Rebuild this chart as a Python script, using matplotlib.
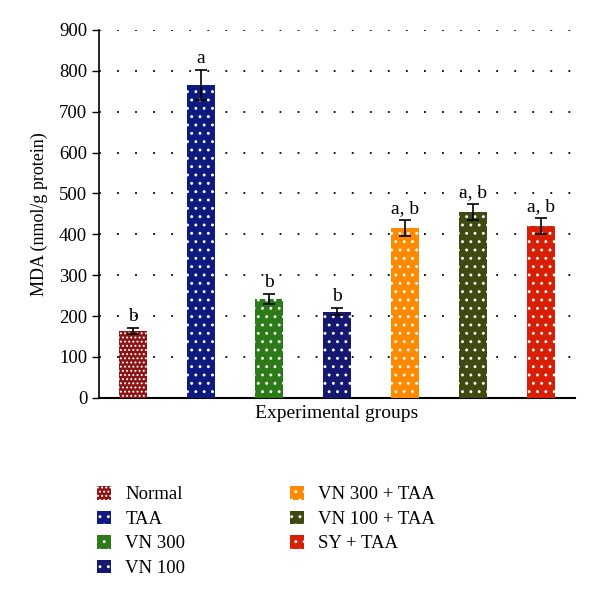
import matplotlib
matplotlib.use("Agg")
import matplotlib.pyplot as plt
import numpy as np

groups = ["Normal", "TAA", "VN 300", "VN 100", "VN 300 + TAA", "VN 100 + TAA", "SY + TAA"]
values = [163, 765, 242, 211, 415, 455, 420]
errors = [8, 37, 12, 9, 20, 20, 20]
letters = ["b", "a", "b", "b", "a, b", "a, b", "a, b"]
colors = ["#8E1212", "#0E1A80", "#2C7A18", "#151870", "#FF8A00", "#3E4A12", "#D91E06"]
hatches = ["....", "..", "..", "..", "..", "..", ".."]
yticks = [0, 100, 200, 300, 400, 500, 600, 700, 800, 900]

plt.rcParams['font.family'] = ['Liberation Serif', 'DejaVu Serif']
plt.rcParams['hatch.linewidth'] = 0.9

fig = plt.figure(figsize=(6, 6), dpi=100)
ax = fig.add_axes([0.165, 0.337, 0.793, 0.613])

x = np.arange(len(groups))
for i in range(len(groups)):
    ax.bar(x[i], values[i], width=0.41, color=colors[i], edgecolor="white",
           linewidth=0, hatch=hatches[i], label=groups[i], zorder=3)
    ax.errorbar(x[i], values[i], yerr=errors[i], fmt="none", ecolor="black",
                elinewidth=1.2, capsize=4, capthick=1.2, zorder=4)
    ax.text(x[i], values[i] + errors[i] + 7, letters[i], ha="center", va="bottom",
            fontsize=14, zorder=5)

ax.set_xlim(-0.5, 6.5)
ax.set_ylim(0, 900)
ax.set_yticks(yticks)
ax.set_xticks([])
ax.tick_params(axis="y", direction="out", length=5, width=1, labelsize=13.5)
for yv in yticks[1:]:
    ax.axhline(yv, color="black", linestyle=(0, (1, 9)), linewidth=1.3, zorder=1)
ax.spines["top"].set_visible(False)
ax.spines["right"].set_visible(False)
ax.spines["left"].set_linewidth(1.2)
ax.spines["bottom"].set_linewidth(1.5)
ax.set_ylabel("MDA (nmol/g protein)", fontsize=13, labelpad=8)
ax.set_xlabel("Experimental groups", fontsize=14, labelpad=5)

handles, labels = ax.get_legend_handles_labels()
fig.legend(handles, labels, ncol=2, loc="upper left", bbox_to_anchor=(0.162, 0.19),
           bbox_transform=fig.transFigure, borderaxespad=0, borderpad=0,
           frameon=False, fontsize=13.5, handlelength=0.75, handleheight=0.75,
           handletextpad=0.75, columnspacing=5.6, labelspacing=0.38)

fig.savefig("out.png", dpi=100)
